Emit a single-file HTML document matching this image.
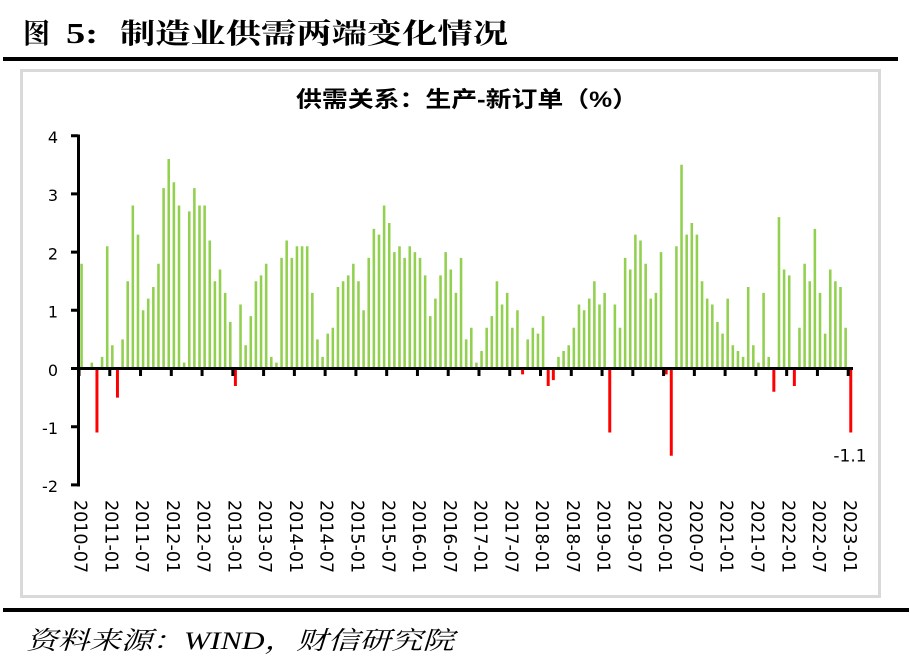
<!DOCTYPE html>
<html>
<head>
<meta charset="utf-8">
<style>
html,body{margin:0;padding:0;background:#fff;}
body{width:910px;height:659px;overflow:hidden;}
svg{display:block;}
.ax{font-family:"DejaVu Sans","Liberation Sans",sans-serif;font-size:16px;fill:#000;}
.xl{font-family:"DejaVu Sans","Liberation Sans",sans-serif;font-size:17.5px;fill:#000;}
</style>
</head>
<body>
<svg width="910" height="659" xmlns="http://www.w3.org/2000/svg">
<rect x="0" y="0" width="910" height="659" fill="#fff"/>
<text x="23" y="43" font-family="'Noto Serif CJK SC','Liberation Serif',serif" font-weight="bold" font-size="28" textLength="27" lengthAdjust="spacingAndGlyphs">图</text>
<text x="66" y="43" font-family="'Liberation Serif',serif" font-weight="bold" font-size="29" textLength="32" lengthAdjust="spacingAndGlyphs">5:</text>
<text x="120" y="43" font-family="'Noto Serif CJK SC','Liberation Serif',serif" font-weight="bold" font-size="28" textLength="388" lengthAdjust="spacingAndGlyphs">制造业供需两端变化情况</text>
<rect x="3" y="57" width="895" height="4" fill="#000"/>
<rect x="21.5" y="70.5" width="858" height="526" fill="#fff" stroke="#d9d9d9" stroke-width="3"/>
<text x="296" y="107" font-family="'Liberation Sans','Noto Sans CJK SC',sans-serif" font-weight="bold" font-size="22" textLength="342" lengthAdjust="spacingAndGlyphs">供需关系：生产-新订单（%）</text>
<g transform="translate(79,368.5) scale(5.128,-58.2)">
<path fill="#92D050" d="M0.25 0v1.8h.5v-1.8z M2.25 0v.1h.5v-.1z M4.25 0v.2h.5v-.2z M5.25 0v2.1h.5v-2.1z M6.25 0v.4h.5v-.4z M8.25 0v.5h.5v-.5z M9.25 0v1.5h.5v-1.5z M10.25 0v2.8h.5v-2.8z M11.25 0v2.3h.5v-2.3z M12.25 0v1h.5v-1z M13.25 0v1.2h.5v-1.2z M14.25 0v1.4h.5v-1.4z M15.25 0v1.8h.5v-1.8z M16.25 0v3.1h.5v-3.1z M17.25 0v3.6h.5v-3.6z M18.25 0v3.2h.5v-3.2z M19.25 0v2.8h.5v-2.8z M20.25 0v.1h.5v-.1z M21.25 0v2.7h.5v-2.7z M22.25 0v3.1h.5v-3.1z M23.25 0v2.8h.5v-2.8z M24.25 0v2.8h.5v-2.8z M25.25 0v2.2h.5v-2.2z M26.25 0v1.5h.5v-1.5z M27.25 0v1.7h.5v-1.7z M28.25 0v1.3h.5v-1.3z M29.25 0v.8h.5v-.8z M31.25 0v1.1h.5v-1.1z M32.25 0v.4h.5v-.4z M33.25 0v.9h.5v-.9z M34.25 0v1.5h.5v-1.5z M35.25 0v1.6h.5v-1.6z M36.25 0v1.8h.5v-1.8z M37.25 0v.2h.5v-.2z M38.25 0v.1h.5v-.1z M39.25 0v1.9h.5v-1.9z M40.25 0v2.2h.5v-2.2z M41.25 0v1.9h.5v-1.9z M42.25 0v2.1h.5v-2.1z M43.25 0v2.1h.5v-2.1z M44.25 0v2.1h.5v-2.1z M45.25 0v1.3h.5v-1.3z M46.25 0v.5h.5v-.5z M47.25 0v.2h.5v-.2z M48.25 0v.6h.5v-.6z M49.25 0v.7h.5v-.7z M50.25 0v1.4h.5v-1.4z M51.25 0v1.5h.5v-1.5z M52.25 0v1.6h.5v-1.6z M53.25 0v1.8h.5v-1.8z M54.25 0v1.5h.5v-1.5z M55.25 0v1h.5v-1z M56.25 0v1.9h.5v-1.9z M57.25 0v2.4h.5v-2.4z M58.25 0v2.3h.5v-2.3z M59.25 0v2.8h.5v-2.8z M60.25 0v2.5h.5v-2.5z M61.25 0v2h.5v-2z M62.25 0v2.1h.5v-2.1z M63.25 0v1.9h.5v-1.9z M64.25 0v2.1h.5v-2.1z M65.25 0v2h.5v-2z M66.25 0v1.9h.5v-1.9z M67.25 0v1.6h.5v-1.6z M68.25 0v.9h.5v-.9z M69.25 0v1.2h.5v-1.2z M70.25 0v1.6h.5v-1.6z M71.25 0v2h.5v-2z M72.25 0v1.7h.5v-1.7z M73.25 0v1.3h.5v-1.3z M74.25 0v1.9h.5v-1.9z M75.25 0v.5h.5v-.5z M76.25 0v.7h.5v-.7z M77.25 0v.1h.5v-.1z M78.25 0v.3h.5v-.3z M79.25 0v.7h.5v-.7z M80.25 0v.9h.5v-.9z M81.25 0v1.5h.5v-1.5z M82.25 0v1.1h.5v-1.1z M83.25 0v1.3h.5v-1.3z M84.25 0v.7h.5v-.7z M85.25 0v1h.5v-1z M87.25 0v.5h.5v-.5z M88.25 0v.7h.5v-.7z M89.25 0v.6h.5v-.6z M90.25 0v.9h.5v-.9z M93.25 0v.2h.5v-.2z M94.25 0v.3h.5v-.3z M95.25 0v.4h.5v-.4z M96.25 0v.7h.5v-.7z M97.25 0v1.1h.5v-1.1z M98.25 0v1h.5v-1z M99.25 0v1.2h.5v-1.2z M100.25 0v1.5h.5v-1.5z M101.25 0v1.1h.5v-1.1z M102.25 0v1.3h.5v-1.3z M104.25 0v1.1h.5v-1.1z M105.25 0v.7h.5v-.7z M106.25 0v1.9h.5v-1.9z M107.25 0v1.7h.5v-1.7z M108.25 0v2.3h.5v-2.3z M109.25 0v2.2h.5v-2.2z M110.25 0v1.8h.5v-1.8z M111.25 0v1.2h.5v-1.2z M112.25 0v1.3h.5v-1.3z M113.25 0v2h.5v-2z M116.25 0v2.1h.5v-2.1z M117.25 0v3.5h.5v-3.5z M118.25 0v2.3h.5v-2.3z M119.25 0v2.5h.5v-2.5z M120.25 0v2.3h.5v-2.3z M121.25 0v1.5h.5v-1.5z M122.25 0v1.2h.5v-1.2z M123.25 0v1.1h.5v-1.1z M124.25 0v.8h.5v-.8z M125.25 0v.6h.5v-.6z M126.25 0v1.2h.5v-1.2z M127.25 0v.4h.5v-.4z M128.25 0v.3h.5v-.3z M129.25 0v.2h.5v-.2z M130.25 0v1.4h.5v-1.4z M131.25 0v.4h.5v-.4z M132.25 0v.1h.5v-.1z M133.25 0v1.3h.5v-1.3z M134.25 0v.2h.5v-.2z M136.25 0v2.6h.5v-2.6z M137.25 0v1.7h.5v-1.7z M138.25 0v1.6h.5v-1.6z M140.25 0v.7h.5v-.7z M141.25 0v1.8h.5v-1.8z M142.25 0v1.5h.5v-1.5z M143.25 0v2.4h.5v-2.4z M144.25 0v1.3h.5v-1.3z M145.25 0v.6h.5v-.6z M146.25 0v1.7h.5v-1.7z M147.25 0v1.5h.5v-1.5z M148.25 0v1.4h.5v-1.4z M149.25 0v.7h.5v-.7z"/>
<path fill="#FF0000" d="M3.21 0v-1.1h.58v1.1z M7.21 0v-.5h.58v.5z M30.21 0v-.3h.58v.3z M86.21 0v-.1h.58v.1z M91.21 0v-.3h.58v.3z M92.21 0v-.2h.58v.2z M103.21 0v-1.1h.58v1.1z M114.21 0v-.1h.58v.1z M115.21 0v-1.5h.58v1.5z M135.21 0v-.4h.58v.4z M139.21 0v-.3h.58v.3z M150.21 0v-1.1h.58v1.1z"/>
</g>
<rect x="77" y="134.5" width="3" height="352" fill="#000"/>
<line x1="74.5" y1="134.2" x2="74.5" y2="488" stroke="#000" stroke-width="7" stroke-dasharray="3 55.2"/>
<rect x="77" y="367" width="776" height="3" fill="#000"/>
<line x1="77.5" y1="372.5" x2="852" y2="372.5" stroke="#000" stroke-width="7" stroke-dasharray="3 27.768"/>
<g class="ax" text-anchor="end">
<text x="58" y="143">4</text>
<text x="58" y="201.2">3</text>
<text x="58" y="259.4">2</text>
<text x="58" y="317.6">1</text>
<text x="58" y="375.8">0</text>
<text x="58" y="434">-1</text>
<text x="58" y="492.2">-2</text>
</g>
<text x="850" y="461.5" text-anchor="middle" font-family="'DejaVu Sans','Liberation Sans',sans-serif" font-size="17">-1.1</text>
<g class="xl" dominant-baseline="central">
<text transform="translate(79.6,500) rotate(90)">2010-07</text>
<text transform="translate(110.37,500) rotate(90)">2011-01</text>
<text transform="translate(141.14,500) rotate(90)">2011-07</text>
<text transform="translate(171.9,500) rotate(90)">2012-01</text>
<text transform="translate(202.67,500) rotate(90)">2012-07</text>
<text transform="translate(233.44,500) rotate(90)">2013-01</text>
<text transform="translate(264.2,500) rotate(90)">2013-07</text>
<text transform="translate(294.98,500) rotate(90)">2014-01</text>
<text transform="translate(325.74,500) rotate(90)">2014-07</text>
<text transform="translate(356.5,500) rotate(90)">2015-01</text>
<text transform="translate(387.28,500) rotate(90)">2015-07</text>
<text transform="translate(418.05,500) rotate(90)">2016-01</text>
<text transform="translate(448.8,500) rotate(90)">2016-07</text>
<text transform="translate(479.6,500) rotate(90)">2017-01</text>
<text transform="translate(510.35,500) rotate(90)">2017-07</text>
<text transform="translate(541.1,500) rotate(90)">2018-01</text>
<text transform="translate(571.9,500) rotate(90)">2018-07</text>
<text transform="translate(602.66,500) rotate(90)">2019-01</text>
<text transform="translate(633.4,500) rotate(90)">2019-07</text>
<text transform="translate(664.2,500) rotate(90)">2020-01</text>
<text transform="translate(694.96,500) rotate(90)">2020-07</text>
<text transform="translate(725.7,500) rotate(90)">2021-01</text>
<text transform="translate(756.5,500) rotate(90)">2021-07</text>
<text transform="translate(787.26,500) rotate(90)">2022-01</text>
<text transform="translate(818.03,500) rotate(90)">2022-07</text>
<text transform="translate(848.8,500) rotate(90)">2023-01</text>
</g>
<rect x="3" y="608" width="906" height="4" fill="#000"/>
<text x="26" y="649" font-family="'Liberation Serif','Noto Serif CJK SC',serif" font-style="italic" font-size="25" textLength="428" lengthAdjust="spacingAndGlyphs">资料来源：WIND，财信研究院</text>
</svg>
</body>
</html>
